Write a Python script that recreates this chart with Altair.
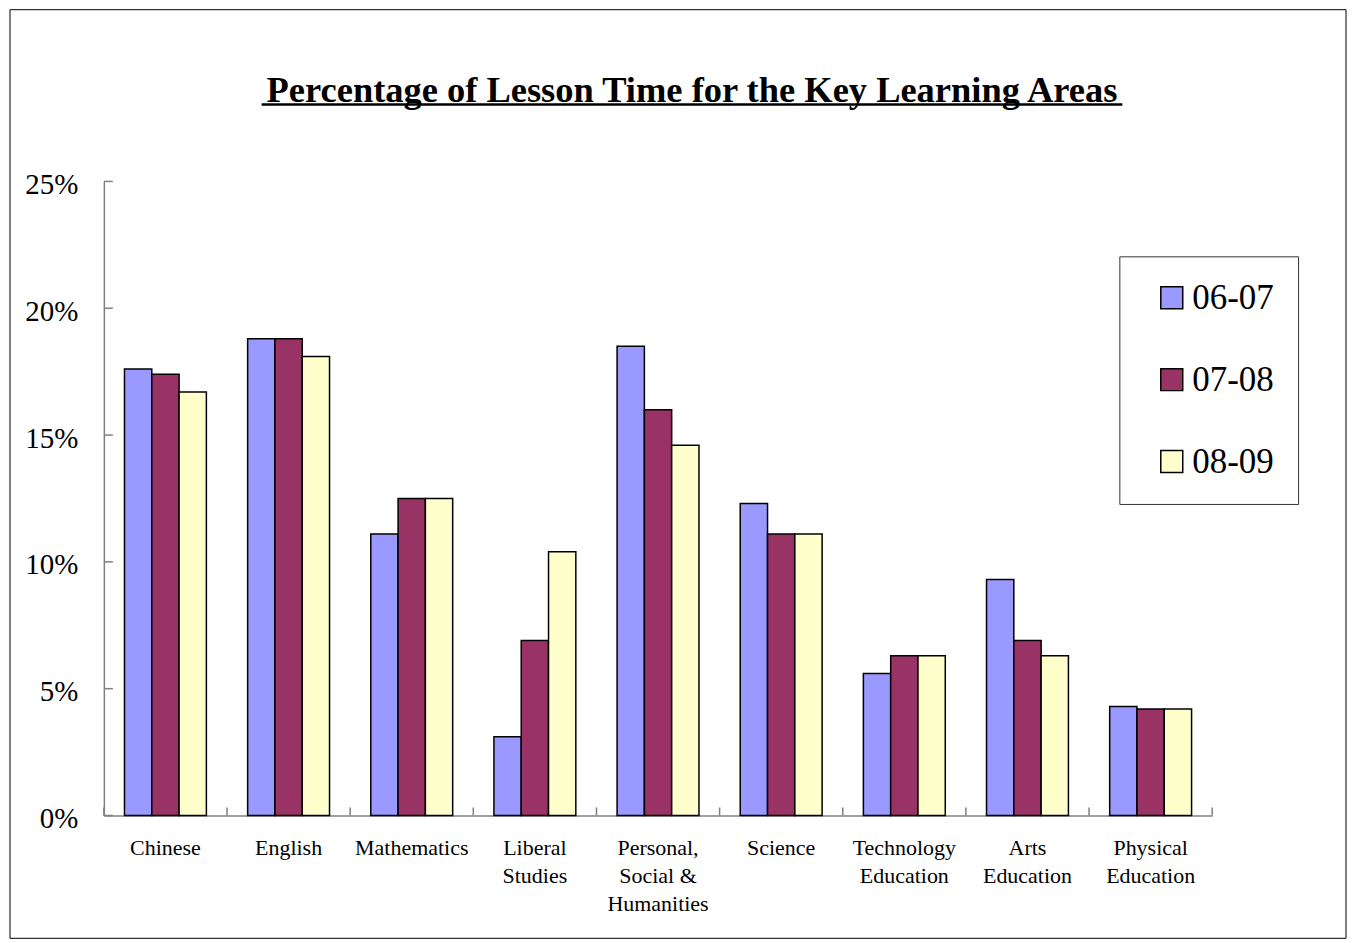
import altair as alt
import pandas as pd

# ---------------- data ----------------
categories = ["Chinese", "English", "Mathematics", "Liberal Studies",
              "Personal, Social & Humanities", "Science",
              "Technology Education", "Arts Education", "Physical Education"]
label_lines = [["Chinese"], ["English"], ["Mathematics"], ["Liberal", "Studies"],
               ["Personal,", "Social &", "Humanities"], ["Science"],
               ["Technology", "Education"], ["Arts", "Education"],
               ["Physical", "Education"]]
years = ["06-07", "07-08", "08-09"]
v_0607 = [17.6, 18.8, 11.1, 3.1, 18.5, 12.3, 5.6, 9.3, 4.3]
v_0708 = [17.4, 18.8, 12.5, 6.9, 16.0, 11.1, 6.3, 6.9, 4.2]
v_0809 = [16.7, 18.1, 12.5, 10.4, 14.6, 11.1, 6.3, 6.3, 4.2]
colors = ["#9999FF", "#993366", "#FFFFCC"]
y_tick_values = [0, 0.05, 0.10, 0.15, 0.20, 0.25]
title_text = "Percentage of Lesson Time for the Key Learning Areas"

rows = []
for yr, vals in zip(years, [v_0607, v_0708, v_0809]):
    for c, v in zip(categories, vals):
        rows.append({"cat": c, "year": yr, "value": v / 100.0})
df = pd.DataFrame(rows)

W, H = 1110, 635
FONT = "Times New Roman, Liberation Serif, serif"
GREY = "#808080"

# label expression for multi-line category labels
expr = "datum.value"
for c, lines in reversed(list(zip(categories, label_lines))):
    arr = "[" + ",".join("'" + s + "'" for s in lines) + "]"
    expr = f"datum.value == '{c}' ? {arr} : ({expr})"

y_axis = alt.Axis(title=None, values=y_tick_values, format=".0%", ticks=False,
                  grid=False, domainColor=GREY, domainWidth=1.5,
                  labelFont=FONT, labelFontSize=29, labelColor="black",
                  labelPadding=26, labelOffset=3)
y_scale = alt.Scale(domain=[0, 0.25], nice=False)

bars = alt.Chart(df).mark_bar(stroke="black", strokeWidth=1.5).encode(
    x=alt.X("cat:N", sort=categories,
            scale=alt.Scale(paddingInner=0.335, paddingOuter=0.1675),
            axis=alt.Axis(title=None, labelAngle=0, ticks=False, domainColor=GREY,
                          domainWidth=1.5, labelFont=FONT, labelFontSize=22,
                          labelColor="black", labelLineHeight=28, labelPadding=22,
                          labelBaseline="top", labelExpr=expr, labelLimit=300)),
    xOffset=alt.XOffset("year:N", sort=years),
    y=alt.Y("value:Q", scale=y_scale, axis=y_axis),
    color=alt.Color("year:N", sort=years,
                    scale=alt.Scale(domain=years, range=colors),
                    legend=alt.Legend(title=None, orient="none", legendX=1017, legendY=75,
                                      strokeColor="#333333", fillColor="white",
                                      padding=24, symbolOffset=11, symbolSize=484,
                                      symbolType="square", symbolStrokeColor="black",
                                      symbolStrokeWidth=1.5, labelFont=FONT,
                                      labelFontSize=35, labelColor="black",
                                      rowPadding=46, labelOffset=3)),
)

# inward y-axis ticks
ytick_df = pd.DataFrame({"value": y_tick_values})
yticks = alt.Chart(ytick_df).mark_rule(color=GREY, strokeWidth=1.5).encode(
    y=alt.Y("value:Q", scale=y_scale, axis=y_axis),
    x=alt.value(0), x2=alt.value(9),
)

# inward x-axis ticks at category boundaries
xb_df = pd.DataFrame({"b": list(range(len(categories) + 1))})
xticks = alt.Chart(xb_df).mark_rule(color=GREY, strokeWidth=1.5).encode(
    x=alt.X("b:Q", scale=alt.Scale(domain=[0, len(categories)], nice=False, zero=False),
            axis=None),
    y=alt.value(H), y2=alt.value(H - 8),
)

title_df = pd.DataFrame({"t": [title_text]})
title = alt.Chart(title_df).mark_text(font=FONT, fontSize=36.5, fontWeight="bold",
                                      align="center", baseline="alphabetic",
                                      color="black").encode(
    text="t:N", x=alt.value(589), y=alt.value(-80))
underline = alt.Chart(title_df).mark_rule(color="black", strokeWidth=2.5).encode(
    x=alt.value(158), x2=alt.value(1020), y=alt.value(-77))
border = alt.Chart(title_df).mark_rect(fillOpacity=0, stroke="black", strokeWidth=1).encode(
    x=alt.value(-94), x2=alt.value(1244), y=alt.value(-172), y2=alt.value(758))

chart = alt.layer(border, bars, yticks, xticks, title, underline).resolve_scale(
    x="independent"
).properties(
    width=W, height=H,
    autosize=alt.AutoSizeParams(type="none"),
    padding={"left": 96, "top": 173, "right": 136, "bottom": 124},
    background="white",
).configure_view(stroke=None)

chart.save("out.html", embed_options={"renderer": "svg", "actions": False})
